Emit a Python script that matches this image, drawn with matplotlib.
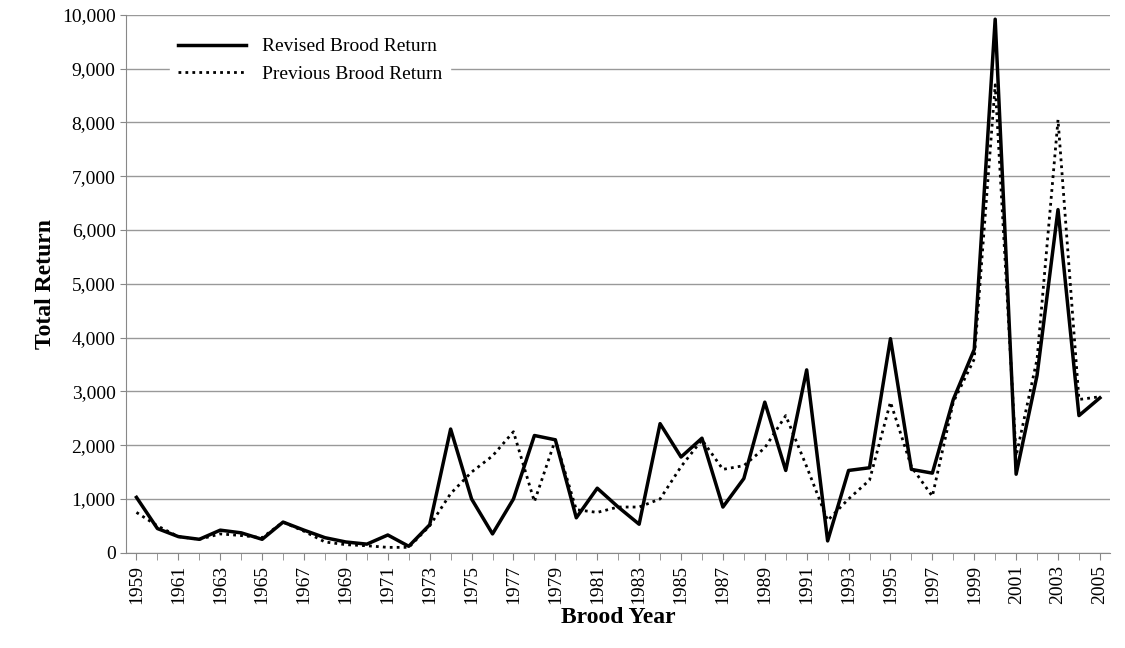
import matplotlib
matplotlib.use("Agg")
import matplotlib.pyplot as plt
from matplotlib.ticker import FuncFormatter

years = list(range(1959, 2006))
revised = [1030,450,300,250,420,370,250,570,420,280,200,160,330,120,520,2300,1000,350,1000,2180,2100,650,1200,850,530,2400,1780,2130,850,1380,2800,1530,3400,220,1530,1580,3980,1550,1480,2850,3780,9920,1460,3300,6380,2550,2880]
previous = [750,500,300,250,350,320,280,570,400,200,150,130,100,100,500,1100,1500,1800,2250,950,2100,800,750,850,850,1000,1600,2100,1550,1620,1950,2550,1600,600,1000,1350,2800,1600,1050,2800,3600,8700,1800,3600,8050,2850,2900]

plt.rcParams['font.family'] = ['Liberation Serif', 'DejaVu Serif']
fig = plt.figure(figsize=(11.25, 6.48), dpi=100)
ax = fig.add_axes([0.112, 0.147, 0.875, 0.83])
ax.plot(years, revised, color='black', lw=2.5, label='Revised Brood Return')
ax.plot(years, previous, color='black', lw=2, ls=(0, (1, 1.5)), label='Previous Brood Return')
ax.set_xlim(1958.5, 2005.5)
ax.set_ylim(0, 10000)
ax.set_yticks(range(0, 10001, 1000))
ax.yaxis.set_major_formatter(FuncFormatter(lambda v, p: f"{int(v):,}"))
ax.set_xticks(years, minor=True)
ax.set_xticks(years[::2])
ax.set_xticklabels([str(y) for y in years[::2]], rotation=90, fontsize=14)
ax.tick_params(axis='y', labelsize=14, length=4, color='#888888')
ax.tick_params(axis='x', which='both', length=5, color='#888888')
ax.grid(axis='y', color='#999999', lw=1)
ax.set_axisbelow(True)
for s in ['top', 'right']:
    ax.spines[s].set_visible(False)
for s in ['left', 'bottom']:
    ax.spines[s].set_color('#888888')
ax.set_xlabel('Brood Year', fontsize=17, fontweight='bold', labelpad=2)
ax.set_ylabel('Total Return', fontsize=17, fontweight='bold')
leg = ax.legend(loc='upper left', bbox_to_anchor=(0.035, 0.99), frameon=True, fontsize=14, handlelength=3.5)
leg.get_frame().set_edgecolor('white')
leg.get_frame().set_facecolor('white')
leg.get_frame().set_alpha(1)
fig.savefig('out.png', dpi=100)
